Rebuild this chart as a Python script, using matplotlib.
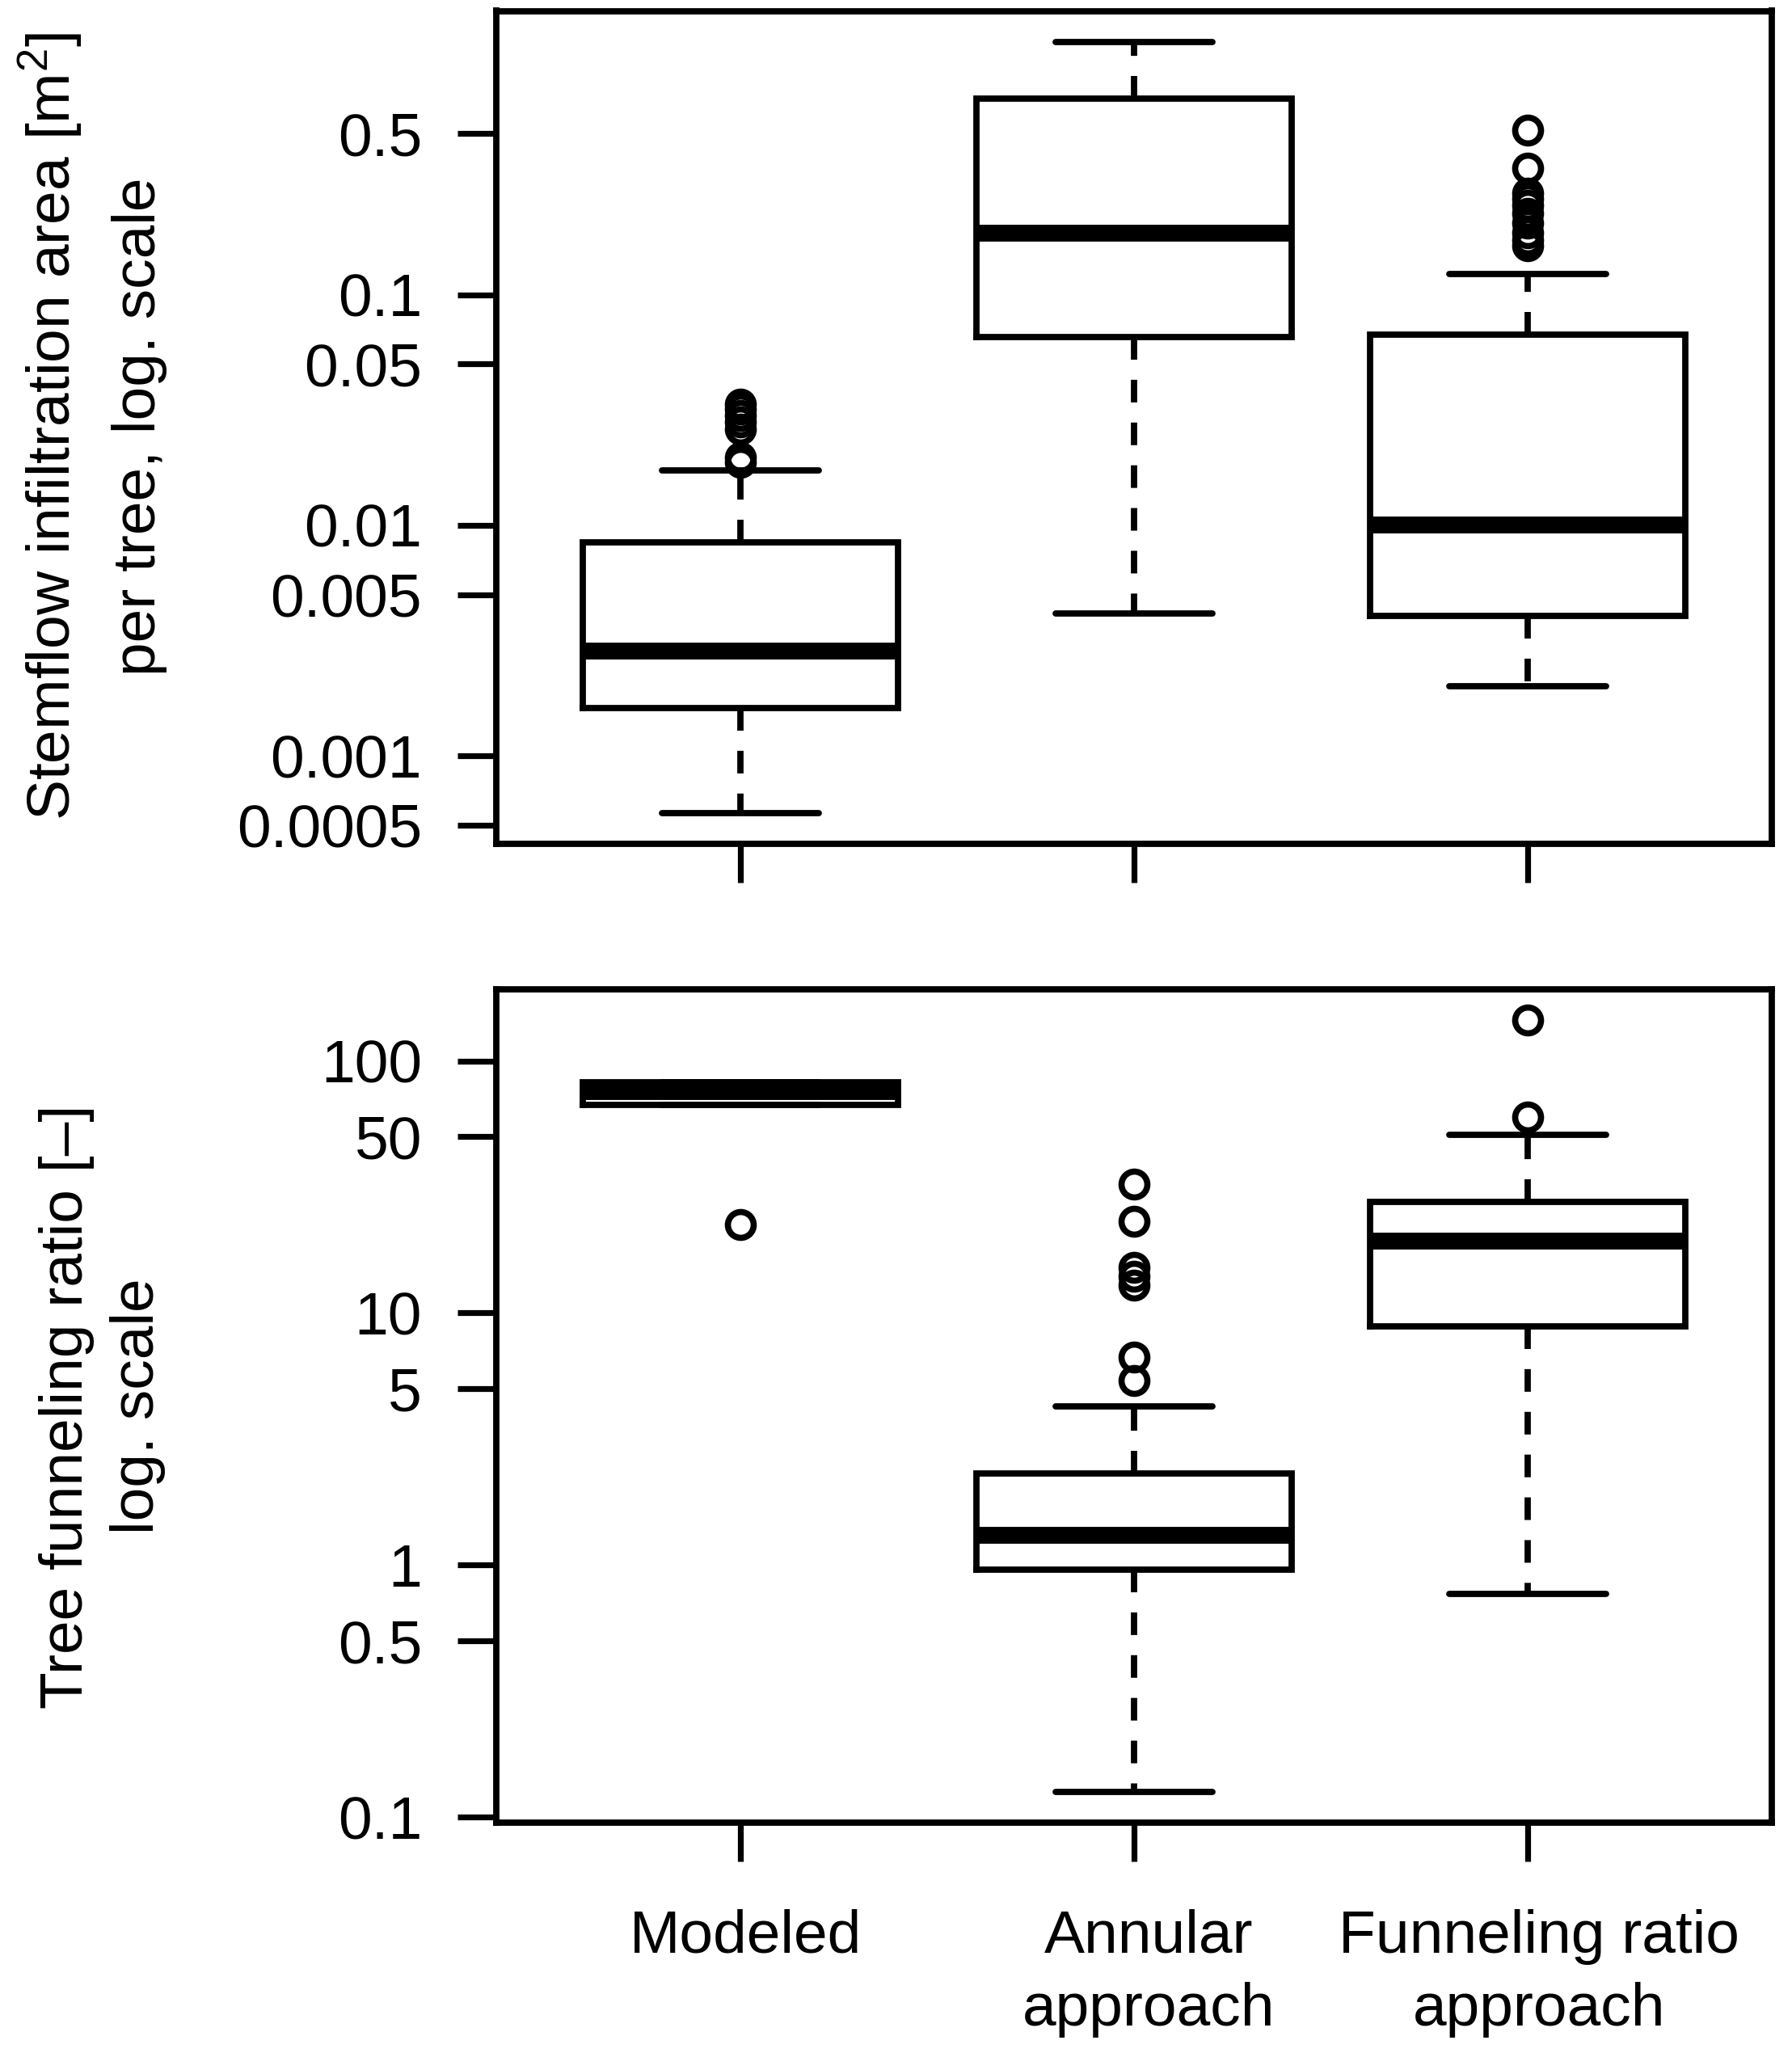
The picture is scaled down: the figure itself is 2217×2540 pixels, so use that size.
import numpy as np
import matplotlib
matplotlib.use("Agg")
import matplotlib.pyplot as plt
import matplotlib.transforms as mtrans

plt.rcParams['font.family'] = ['Liberation Sans', 'DejaVu Sans']
plt.rcParams['mathtext.fontset'] = 'custom'
plt.rcParams['mathtext.rm'] = 'Liberation Sans'
plt.rcParams['mathtext.it'] = 'Liberation Sans:italic'
plt.rcParams['mathtext.bf'] = 'Liberation Sans:bold'

# ---------------- data ----------------
categories = ["Modeled", "Annular\napproach", "Funneling ratio\napproach"]

# Top panel: stemflow infiltration area per tree [m2]
area_whislo = [0.000565, 0.00414, 0.0020]
area_q1     = [0.00161, 0.0655, 0.00405]
area_med    = [0.00286, 0.186, 0.0101]
area_q3     = [0.0084, 0.71, 0.0673]
area_whishi = [0.0173, 1.25, 0.123]
area_fliers = [
    [0.0188, 0.0196, 0.026, 0.028, 0.030, 0.032, 0.0335],
    [],
    [0.516, 0.353, 0.275, 0.26, 0.245, 0.225, 0.205, 0.186, 0.172, 0.163],
]
area_ticks = [0.0005, 0.001, 0.005, 0.01, 0.05, 0.1, 0.5]
area_ticklabels = ["0.0005", "0.001", "0.005", "0.01", "0.05", "0.1", "0.5"]

# Bottom panel: tree funneling ratio [-]
fr_whislo = [67.0, 0.126, 0.77]
fr_q1     = [67.0, 0.96, 8.87]
fr_med    = [76.0, 1.32, 19.3]
fr_q3     = [82.0, 2.30, 27.6]
fr_whishi = [82.0, 4.27, 50.9]
fr_fliers = [
    [22.4],
    [32.4, 23.1, 15.2, 14.0, 12.9, 6.7, 5.4],
    [145.0, 60.0],
]
fr_ticks = [0.1, 0.5, 1, 5, 10, 50, 100]
fr_ticklabels = ["0.1", "0.5", "1", "5", "10", "50", "100"]

positions = [1, 2, 3]

# ---------------- styling ----------------
FS = 54
LW = 5.6
MEDLW = 15
W, H = 2217, 2540
PX = 72.0 / 100.0  # points per pixel at dpi 100

fig = plt.figure(figsize=(W / 100, H / 100), dpi=100)
fig.patch.set_facecolor('white')

ax1 = fig.add_axes([614 / W, 1 - 1044 / H, (2192 - 614) / W, (1044 - 13.5) / H])
ax2 = fig.add_axes([614 / W, 1 - 2255 / H, (2192 - 614) / W, (2255 - 1224) / H])


def make_stats(lo, q1, med, q3, hi, fl):
    out = []
    for i in range(len(lo)):
        out.append(dict(whislo=lo[i], q1=q1[i], med=med[i], q3=q3[i],
                        whishi=hi[i], fliers=fl[i]))
    return out


def draw(ax, stats, ticks, ticklabels, show_xlabels):
    ax.set_yscale('log')
    ax.bxp(stats, positions=positions, widths=0.8, capwidths=0.4,
           manage_ticks=False,
           boxprops=dict(color='black', linewidth=LW, solid_joinstyle='miter'),
           whiskerprops=dict(color='black', linewidth=LW,
                             linestyle=(0, (3.6, 3.2))),
           capprops=dict(color='black', linewidth=LW, solid_capstyle='round'),
           medianprops=dict(color='black', linewidth=MEDLW,
                            solid_capstyle='butt'),
           flierprops=dict(marker='o', markerfacecolor='none',
                           markeredgecolor='black', markersize=23,
                           markeredgewidth=5.5, linestyle='none'))
    allv = [v for s in stats for v in ([s['whislo'], s['whishi']] + list(s['fliers']))]
    lmin, lmax = np.log10(min(allv)), np.log10(max(allv))
    pad = 0.04 * (lmax - lmin)
    ax.set_ylim(10 ** (lmin - pad), 10 ** (lmax + pad))
    ax.set_xlim(0.38, 3.62)
    ax.set_yticks(ticks)
    ax.set_yticklabels(ticklabels)
    ax.yaxis.set_minor_locator(matplotlib.ticker.NullLocator())
    ax.set_xticks(positions)
    if show_xlabels:
        ax.set_xticklabels(categories, fontsize=FS, linespacing=1.38)
    else:
        ax.set_xticklabels([])
    ax.tick_params(axis='x', which='major', length=48 * PX, width=5.2,
                   pad=59 * PX, labelsize=FS, direction='out', color='black')
    ax.tick_params(axis='y', which='major', length=48 * PX, width=5.2,
                   pad=44 * PX, labelsize=FS, direction='out', color='black')
    for sp in ax.spines.values():
        sp.set_linewidth(LW)
        sp.set_color('black')
    ax.set_facecolor('white')


draw(ax1, make_stats(area_whislo, area_q1, area_med, area_q3, area_whishi, area_fliers),
     area_ticks, area_ticklabels, False)
draw(ax2, make_stats(fr_whislo, fr_q1, fr_med, fr_q3, fr_whishi, fr_fliers),
     fr_ticks, fr_ticklabels, True)

# small horizontal nudges of the category labels (as in the original rendering)
label_nudge_px = [7, 18, 14]
for lab, dx in zip(ax2.get_xticklabels(), label_nudge_px):
    lab.set_transform(lab.get_transform() +
                      mtrans.ScaledTranslation(dx / 100.0, 0, fig.dpi_scale_trans))

# y-axis labels (two lines each)
def ylab(xpx, ypx, s):
    fig.text(xpx / W, 1 - ypx / H, s, rotation=90, rotation_mode='anchor',
             ha='center', va='baseline', fontsize=FS)

ylab(87, 528, r"Stemflow infiltration area [m$^{\mathrm{2}}$]")
ylab(192, 528, "per tree, log. scale")
ylab(102, 1740, "Tree funneling ratio [–]")
ylab(190, 1740, "log. scale")

fig.savefig("out.png", dpi=100, facecolor='white')
